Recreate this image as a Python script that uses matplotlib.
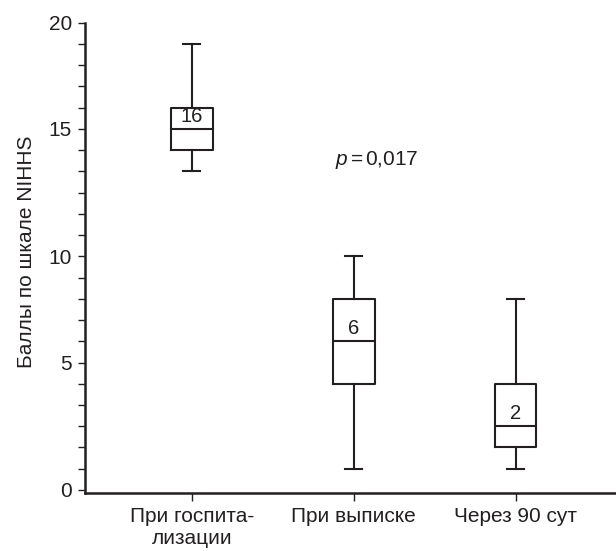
import matplotlib
matplotlib.use('Agg')
import matplotlib.pyplot as plt
from matplotlib.ticker import FixedLocator, MultipleLocator

plt.rcParams['font.family'] = ['Liberation Sans', 'DejaVu Sans']
plt.rcParams['mathtext.fontset'] = 'custom'
plt.rcParams['mathtext.rm'] = 'Liberation Sans'
plt.rcParams['mathtext.it'] = 'Liberation Sans:italic'

# ---- data ----
categories = ['При госпита-\nлизации', 'При выписке', 'Через 90 сут']
whisker_low = [14, 0, 0]
q1 = [15, 4, 1]
medians = [16, 6, 2]
q3 = [17, 8, 4]
whisker_high = [20, 10, 8]
median_labels = ['16', '6', '2']
# tick labels as printed in the original figure (placed where the original shows them)
ytick_values = [-1, 5, 10, 16, 21]
ytick_labels = ['0', '5', '10', '15', '20']
p_label = r'$p\,$=$\,$0,017'
y_label = 'Баллы по шкале NIHHS'

COL = '#231f20'
FS = 15

fig = plt.figure(figsize=(6.16, 5.51), dpi=100)
ax = fig.add_axes([0.138, 0.1058, 0.862, 0.853])

positions = [1, 2, 3]
stats = []
for i in range(len(categories)):
    stats.append(dict(whislo=whisker_low[i], q1=q1[i], med=medians[i],
                      q3=q3[i], whishi=whisker_high[i], fliers=[]))

lw = 1.5
ax.bxp(stats, positions=positions, widths=0.257, capwidths=0.105,
       showfliers=False, patch_artist=False,
       boxprops=dict(color=COL, linewidth=lw),
       medianprops=dict(color=COL, linewidth=lw),
       whiskerprops=dict(color=COL, linewidth=lw),
       capprops=dict(color=COL, linewidth=lw))

for x, m, lab in zip(positions, medians, median_labels):
    ax.text(x, m + 0.6, lab, ha='center', va='center', fontsize=FS - 0.5, color=COL)

ax.text(2.14, 14.55, p_label, ha='center', va='center', fontsize=FS, color=COL)

ax.set_xlim(0.339, 3.62)
ax.set_ylim(-1.13, 21.0)

for s in ['top', 'right']:
    ax.spines[s].set_visible(False)
for s in ['left', 'bottom']:
    ax.spines[s].set_linewidth(1.8)
    ax.spines[s].set_color(COL)

ax.yaxis.set_major_locator(FixedLocator(ytick_values))
ax.set_yticklabels(ytick_labels)
ax.yaxis.set_minor_locator(MultipleLocator(1))
ax.tick_params(axis='y', which='both', direction='out', length=5.3, width=1.0,
               color=COL, labelsize=FS, labelcolor=COL, pad=4)
ax.set_xticks(positions)
ax.set_xticklabels(categories, linespacing=1.2)
ax.tick_params(axis='x', direction='out', length=5.5, width=1.0, color=COL,
               labelsize=FS, labelcolor=COL, pad=5)

ax.set_ylabel(y_label, fontsize=FS, color=COL)
ax.yaxis.set_label_coords(-0.092, 0.513)

fig.savefig('out.png', dpi=100)
